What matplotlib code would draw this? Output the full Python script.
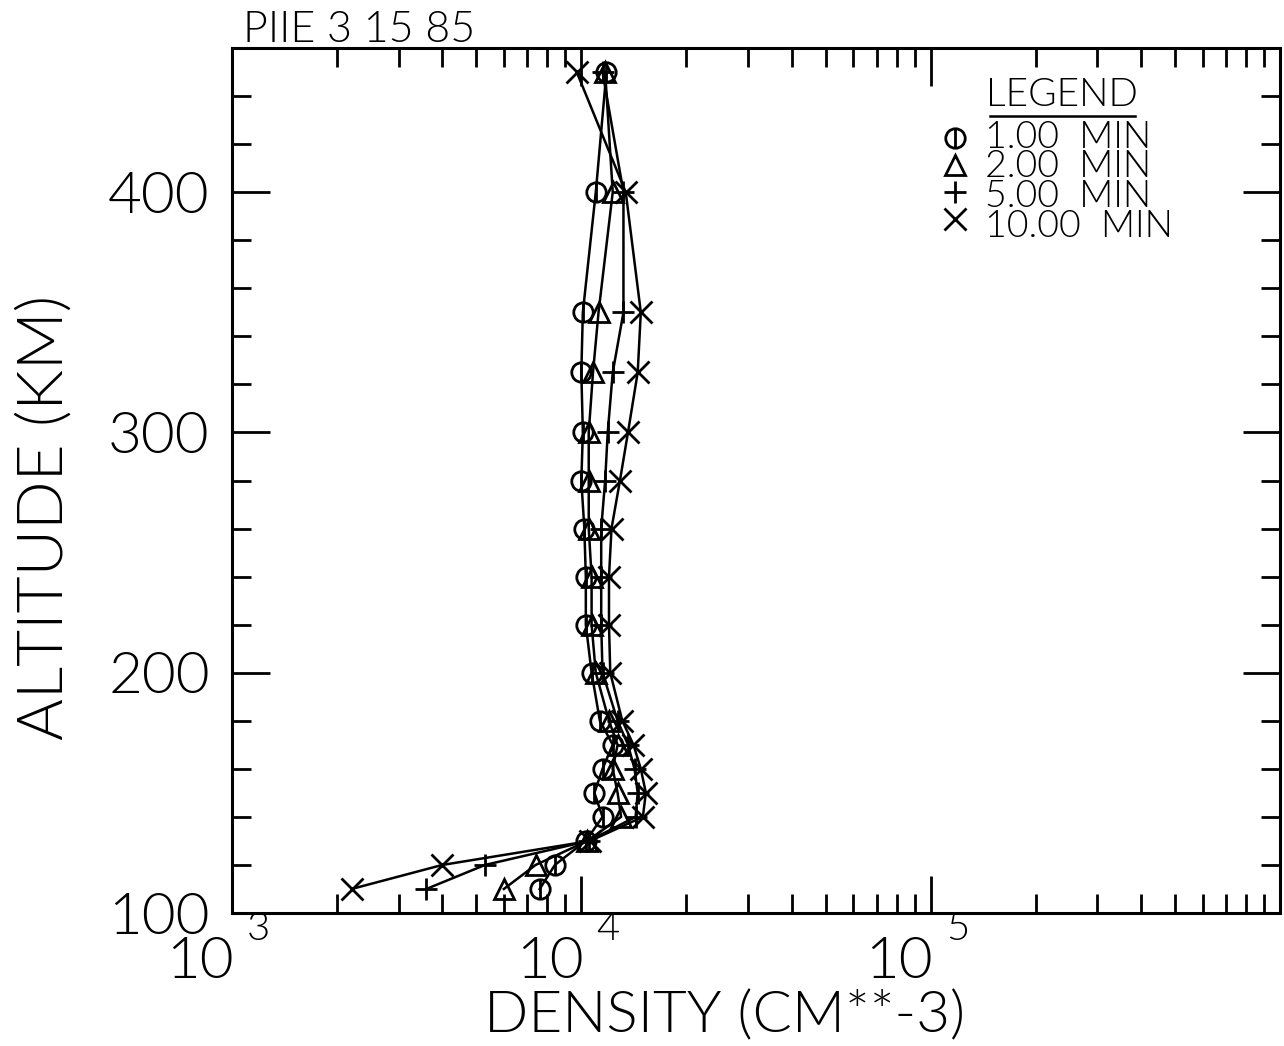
import numpy as np
import matplotlib
matplotlib.use("Agg")
import matplotlib.pyplot as plt
from matplotlib.path import Path
from matplotlib.ticker import NullFormatter
from matplotlib.transforms import blended_transform_factory, offset_copy

plt.rcParams["font.family"] = ["Lato", "DejaVu Sans"]
plt.rcParams["font.weight"] = 300

W, H = 1284, 1046

altitude = [110, 120, 130, 140, 150, 160, 170, 180, 200, 220, 240, 260, 280, 300, 325, 350, 400, 450]
dens_1min = [7600, 8400, 10300, 11500, 10900, 11500, 12300, 11300, 10700, 10300,
             10300, 10200, 10000, 10100, 10000, 10100, 11000, 11800]
dens_2min = [6000, 7400, 10400, 13000, 12700, 12300, 12700, 12000, 11000, 10700,
             10700, 10500, 10500, 10500, 10800, 11200, 12300, 11700]
dens_5min = [3600, 5300, 10500, 14300, 14500, 14200, 13600, 12700, 11500, 11400,
             11400, 11400, 11700, 11900, 12300, 13200, 13200, 11500]
dens_10min = [2200, 4000, 10600, 15000, 15300, 14800, 14100, 13100, 12100, 12000,
              12000, 12200, 12900, 13600, 14500, 14800, 13400, 9700]

legend_labels = ["1.00 MIN", "2.00 MIN", "5.00 MIN", "10.00 MIN"]
title = "PIIE 3 15 85"
x_label = "DENSITY (CM**-3)"
y_label = "ALTITUDE (KM)"
decades = [1e3, 1e4, 1e5]
exponents = ["3", "4", "5"]
y_major = [100, 200, 300, 400]
y_minor = [v for v in range(120, 460, 20) if v % 100]

# circle with a vertical bar through it, plotter style
circle_bar = Path.make_compound_path(Path.unit_circle(),
                                     Path([[0, -1], [0, 1]], [Path.MOVETO, Path.LINETO]))
series = [dens_1min, dens_2min, dens_5min, dens_10min]
markers = [circle_bar, "^", "+", "x"]
msizes = [14, 14, 16, 16]

fig = plt.figure(figsize=(W / 100, H / 100), dpi=100)
ax = fig.add_axes([232 / W, 1 - 913 / H, (1280 - 232) / W, (913 - 48) / H])
ax.set_xscale("log")
ax.set_xlim(1e3, 1e6)
ax.set_ylim(100, 460)

for dens, mk, ms in zip(series, markers, msizes):
    ax.plot(dens, altitude, color="black", lw=1.8, marker=mk, ms=ms,
            mfc="none", mec="black", mew=2.0, clip_on=False)

for sp in ax.spines.values():
    sp.set_linewidth(2.2)

ax.tick_params(which="both", direction="in", top=True, right=True, color="black")
ax.tick_params(which="major", length=27, width=2, pad=16, labelsize=42)
ax.tick_params(which="minor", length=14, width=2)
ax.set_yticks(y_major)
ax.set_yticks(y_minor, minor=True)
ax.set_xticks([1e3, 1e4, 1e5, 1e6])
ax.set_xticklabels([])
ax.xaxis.set_minor_formatter(NullFormatter())

# decade labels: big "10" with the exponent raised to the right of the tick
trans = blended_transform_factory(ax.transData, fig.transFigure)
for d, e in zip(decades, exponents):
    ax.text(d, 1 - 978 / H, "10", transform=offset_copy(trans, fig=fig, x=2, units="dots"),
            ha="right", va="baseline", fontsize=42)
    ax.text(d, 1 - 940 / H, e, transform=offset_copy(trans, fig=fig, x=15, units="dots"),
            ha="left", va="baseline", fontsize=29)

fig.text(45 / W, 1 - 517 / H, y_label, rotation=90, ha="center", va="center", fontsize=46)
fig.text(725 / W, 1 - 1032 / H, x_label, ha="center", va="baseline", fontsize=42)
fig.text(243 / W, 1 - 42 / H, title, ha="left", va="baseline", fontsize=31)

# hand-drawn legend block
ax.text(0.792, 0.946, "LEGEND", transform=ax.transAxes, ha="center", va="center", fontsize=28)
ax.plot([0.723, 0.862], [0.9215, 0.9215], transform=ax.transAxes, color="black", lw=1.8,
        clip_on=False)
rows_y = [0.896, 0.865, 0.833, 0.802]
for ry, mk, ms in zip(rows_y, markers, msizes):
    ax.plot([0.690], [ry], transform=ax.transAxes, marker=mk, ms=ms, mfc="none",
            mec="black", mew=2.0, linestyle="none", clip_on=False)
legend_block = "\n".join(lab.replace(" ", "  ") for lab in legend_labels)
ax.text(0.7185, (rows_y[0] + rows_y[-1]) / 2 - 0.004, legend_block, transform=ax.transAxes,
        ha="left", va="center", fontsize=27, linespacing=0.84)

fig.savefig("out.png", dpi=100, facecolor="white")
